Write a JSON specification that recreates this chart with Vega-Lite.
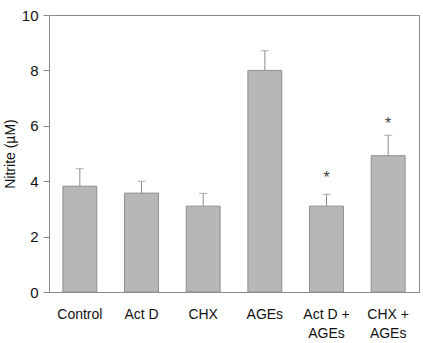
{
  "$schema": "https://vega.github.io/schema/vega-lite/v6.json",
  "autosize": "none",
  "width": 370,
  "height": 277,
  "padding": {"left": 49, "top": 15, "right": 4, "bottom": 51},
  "background": "white",
  "config": {
    "view": {"stroke": "#8a8a8a", "strokeWidth": 1},
    "font": "Liberation Sans"
  },
  "data": {
    "values": [
      {"group": "Control", "nitrite": 3.82, "upper": 4.45, "sig": null},
      {"group": "Act D", "nitrite": 3.57, "upper": 4.0, "sig": null},
      {"group": "CHX", "nitrite": 3.1, "upper": 3.56, "sig": null},
      {"group": "AGEs", "nitrite": 8.0, "upper": 8.71, "sig": null},
      {"group": "Act D +|AGEs", "nitrite": 3.1, "upper": 3.53, "sig": 4.22},
      {"group": "CHX +|AGEs", "nitrite": 4.92, "upper": 5.66, "sig": 6.17}
    ]
  },
  "encoding": {
    "x": {
      "field": "group",
      "type": "nominal",
      "sort": null,
      "scale": {"paddingInner": 0.45},
      "axis": {
        "title": null,
        "labelAngle": 0,
        "labelExpr": "split(datum.value, '|')",
        "labelFontSize": 14,
        "labelColor": "#111111",
        "labelPadding": 15,
        "labelLineHeight": 19,
        "ticks": false,
        "domainColor": "#8a8a8a",
        "labelBaseline": "top"
      }
    }
  },
  "layer": [
    {
      "mark": {"type": "rule", "color": "#8c8c8c", "strokeWidth": 1},
      "encoding": {
        "y": {"field": "nitrite", "type": "quantitative"},
        "y2": {"field": "upper"}
      }
    },
    {
      "mark": {"type": "tick", "color": "#8c8c8c", "size": 8, "thickness": 1},
      "encoding": {
        "y": {"field": "upper", "type": "quantitative"}
      }
    },
    {
      "mark": {"type": "bar", "color": "#b7b7b7", "stroke": "#8f8f8f", "strokeWidth": 1},
      "encoding": {
        "y": {
          "field": "nitrite",
          "type": "quantitative",
          "scale": {"domain": [0, 10], "nice": false},
          "axis": {
            "title": "Nitrite (µM)",
            "titleFontSize": 14,
            "titleFontWeight": "normal",
            "titleColor": "#111111",
            "titlePadding": 4,
            "values": [0, 2, 4, 6, 8, 10],
            "grid": false,
            "labelFontSize": 15,
            "labelColor": "#111111",
            "tickSize": 6,
            "tickColor": "#8a8a8a",
            "domainColor": "#8a8a8a",
            "labelPadding": 5
          }
        }
      }
    },
    {
      "mark": {"type": "text", "text": "*", "fontSize": 16, "color": "#444444", "baseline": "middle", "dy": 3},
      "encoding": {
        "y": {"field": "sig", "type": "quantitative"}
      }
    }
  ]
}
